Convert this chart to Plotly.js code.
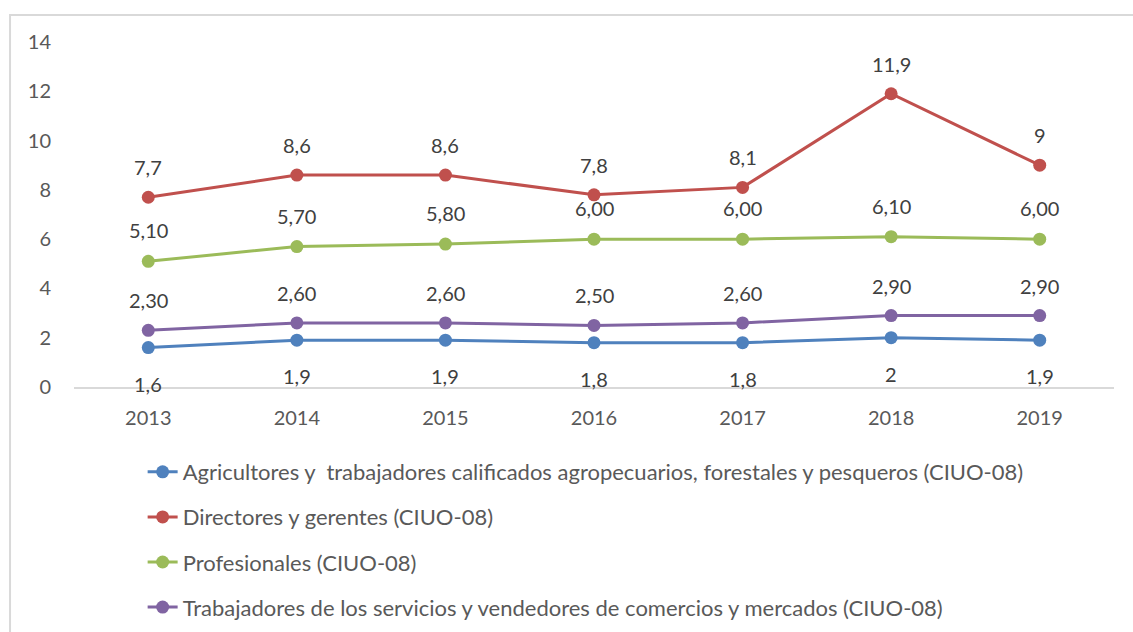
<!DOCTYPE html>
<html>
<head>
<meta charset="utf-8">
<script src="https://cdn.plot.ly/plotly-3.0.1.min.js"></script>
<style>html,body{margin:0;padding:0;background:#fff;}#chart{width:1133px;height:632px;}</style>
</head>
<body>
<div id="chart"></div>
<script>
const years = ["2013","2014","2015","2016","2017","2018","2019"];
const names = [
  "Agricultores y  trabajadores calificados agropecuarios, forestales y pesqueros (CIUO-08)",
  "Directores y gerentes (CIUO-08)",
  "Profesionales (CIUO-08)",
  "Trabajadores de los servicios y vendedores de comercios y mercados (CIUO-08)"
];
const agricultores = [1.6, 1.9, 1.9, 1.8, 1.8, 2.0, 1.9];
const directores   = [7.7, 8.6, 8.6, 7.8, 8.1, 11.9, 9.0];
const profesionales = [5.1, 5.7, 5.8, 6.0, 6.0, 6.1, 6.0];
const trabajadores = [2.3, 2.6, 2.6, 2.5, 2.6, 2.9, 2.9];
const labelsAgri = ["1,6","1,9","1,9","1,8","1,8","2","1,9"];
const labelsDir  = ["7,7","8,6","8,6","7,8","8,1","11,9","9"];
const labelsProf = ["5,10","5,70","5,80","6,00","6,00","6,10","6,00"];
const labelsTrab = ["2,30","2,60","2,60","2,50","2,60","2,90","2,90"];
const yTicks = [0,2,4,6,8,10,12,14];

const colors = ["#4F81BD","#C0504D","#9BBB59","#8064A2"];
const series = [agricultores, directores, profesionales, trabajadores];
const labels = [labelsAgri, labelsDir, labelsProf, labelsTrab];
const shifts = [-36, 30, 31, 30];

const FONT = "Lato, 'Open Sans', sans-serif";
const traces = series.map((vals, i) => ({
  type: "scatter", mode: "lines+markers", x: years, y: vals, name: names[i],
  line: {color: colors[i], width: 3},
  marker: {color: colors[i], size: 13, line: {width: 0}},
  legendgroup: "g" + i, hoverinfo: "skip"
}));

const annotations = [];
series.forEach((vals, i) => {
  vals.forEach((v, j) => {
    annotations.push({
      x: j, y: v, xref: "x", yref: "y", text: labels[i][j],
      showarrow: false, yshift: shifts[i], yanchor: "middle",
      font: {family: FONT, size: 20, color: "#404040"}
    });
  });
});

const layout = {
  width: 1133, height: 632,
  margin: {l: 74, r: 19, t: 42, b: 245, autoexpand: false},
  paper_bgcolor: "#ffffff", plot_bgcolor: "#ffffff",
  showlegend: true,
  legend: {
    orientation: "v", x: 0.066, xanchor: "left", y: -0.1855, yanchor: "top",
    traceorder: "grouped", tracegroupgap: 13.5,
    font: {family: FONT, size: 22, color: "#595959"},
    bgcolor: "rgba(0,0,0,0)"
  },
  xaxis: {
    type: "category", range: [-0.5, 6.5], showgrid: false, zeroline: false,
    showline: true, linecolor: "#d9d9d9", linewidth: 2, ticks: "",
    ticklabelstandoff: 12,
    tickfont: {family: FONT, size: 20, color: "#595959"},
    fixedrange: true
  },
  yaxis: {
    range: [0, 14], tickvals: yTicks, showgrid: false, zeroline: false,
    showline: false, ticks: "", ticklabelstandoff: 22,
    tickfont: {family: FONT, size: 20, color: "#595959"},
    fixedrange: true
  },
  annotations: annotations,
  shapes: [{
    type: "rect", xref: "paper", yref: "paper",
    x0: -0.0615, x1: 1.1, y0: -1, y1: 1.078,
    line: {color: "#d9d9d9", width: 2}, fillcolor: "rgba(0,0,0,0)", layer: "below"
  }]
};

Plotly.newPlot("chart", traces, layout, {displayModeBar: false, staticPlot: true});
</script>
</body>
</html>
